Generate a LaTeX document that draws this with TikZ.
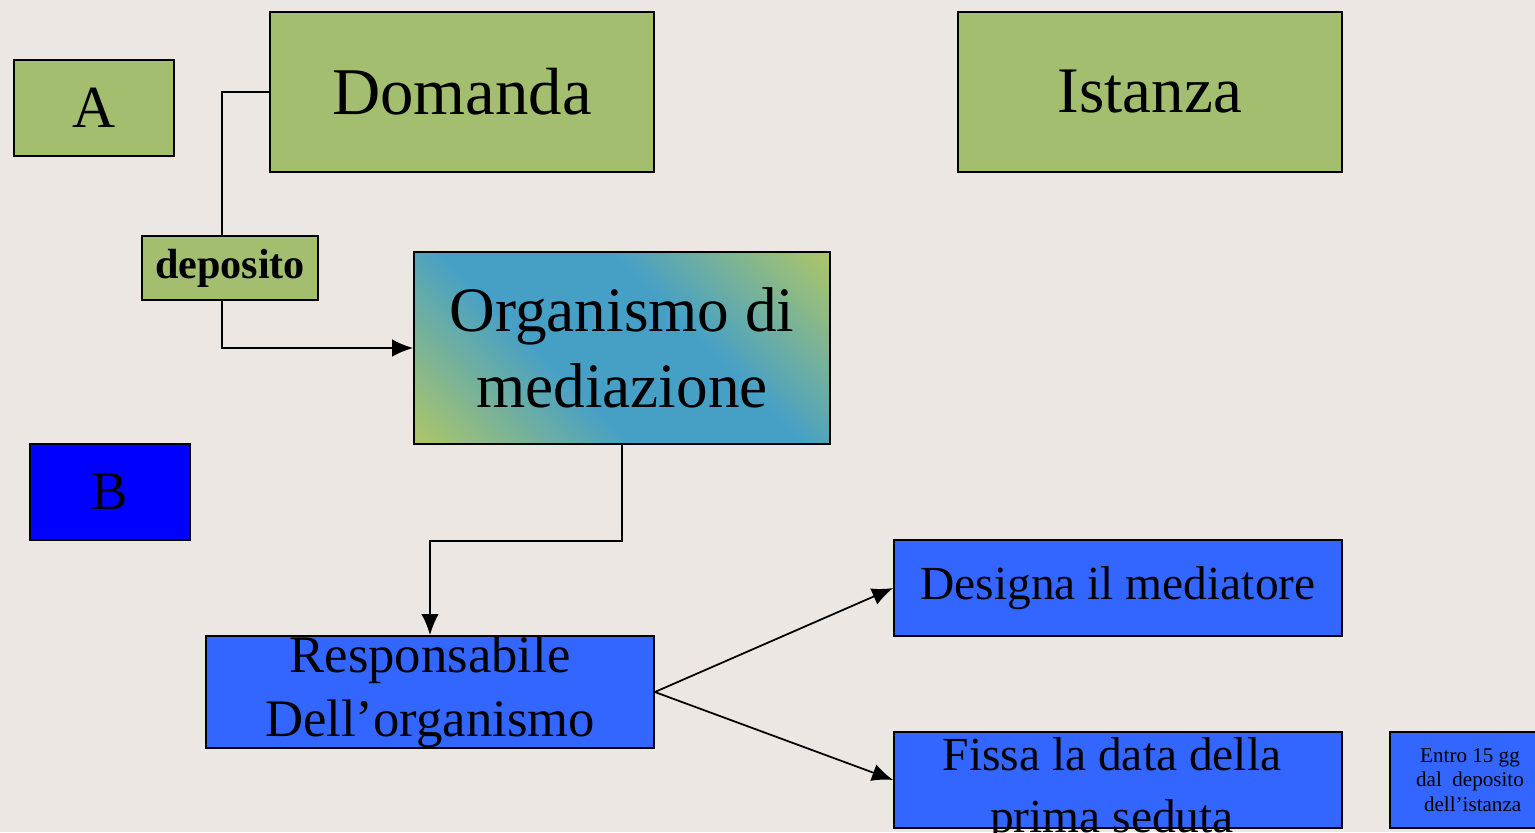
\documentclass[tikz,border=0pt]{standalone}
\usepackage{fontspec}
\setmainfont{Liberation Serif}
\usetikzlibrary{arrows.meta}
\definecolor{bgcol}{HTML}{ECE7E3}
\definecolor{boxgreen}{HTML}{A2BE6E}
\definecolor{boxblue}{HTML}{3366FF}
\definecolor{shgreen}{HTML}{A9C46C}
\definecolor{shblue}{HTML}{46A0C6}
\pgfdeclarehorizontalshading{orgshade}{100bp}{color(0bp)=(shgreen); color(16bp)=(shgreen); color(40bp)=(shblue); color(60bp)=(shblue); color(84bp)=(shgreen); color(100bp)=(shgreen)}
\begin{document}
\begin{tikzpicture}[x=0.02cm, y=-0.02cm, line width=1pt, green node/.style={shape=rectangle, draw, fill=boxgreen, inner sep=0pt, align=center}, blue node/.style={shape=rectangle, draw, fill=boxblue, inner sep=0pt, align=center, minimum width=8.96cm, minimum height=1.92cm, font=\fontsize{27}{35}\selectfont}, arrow/.style={-{Latex[length=12pt,width=10pt]}}]
\fill[bgcol] (0,0) rectangle (1535,832);
\useasboundingbox (0,0) rectangle (1535,832);
\node[green node, minimum width=3.2cm, minimum height=1.92cm, font=\fontsize{34}{40}\selectfont] (A) at (94,108) {A};
\node[green node, minimum width=7.68cm, minimum height=3.2cm, font=\fontsize{38}{46}\selectfont] (D) at (462,92) {Domanda};
\node[green node, minimum width=7.68cm, minimum height=3.2cm, font=\fontsize{37}{46}\selectfont] (I) at (1150,92) {Istanza};
\node[green node, minimum width=3.52cm, minimum height=1.28cm, font=\fontsize{24}{28}\selectfont\bfseries] (dep) at (230,268) {deposito};
\node[shape=rectangle, draw, shade, shading=orgshade, shading angle=45, inner sep=0pt, align=center, minimum width=8.32cm, minimum height=3.84cm, font=\fontsize{36}{43}\selectfont] (O) at (622,348) {Organismo di\\mediazione};
\node[shape=rectangle, draw, fill=blue, minimum width=3.2cm, minimum height=1.92cm, inner sep=0pt, font=\fontsize{31}{36}\selectfont] (B) at (110,492) {B};
\node[blue node, minimum height=2.24cm, font=\fontsize{30}{36}\selectfont] (R) at (430,692) {Responsabile\\Dell’organismo};
\node[blue node] (DM) at (1118,588) {Designa il mediatore};
\node[blue node] (F) at (1118,780) {};
\node[align=center, inner sep=0pt, font=\fontsize{27}{35}\selectfont] (Ftext) at (1112,790) {Fissa la data della\\prima seduta};
\node[blue node, minimum width=3.2cm, font=\fontsize{12}{14}\selectfont] (E) at (1470,780) {Entro 15 gg\\dal\ \ deposito\\\ dell’istanza};
\coordinate (kink) at (222,92);
\draw (D.west) -- (kink) -- (kink |- dep.north);
\draw [arrow] (kink |- dep.south) |- (O.west);
\draw [arrow] (O.south) -- ++(0,96) -| (R.north);
\draw [arrow] (R.east) -- (DM.west);
\draw [arrow] (R.east) -- (F.west);
\end{tikzpicture}
\end{document}
